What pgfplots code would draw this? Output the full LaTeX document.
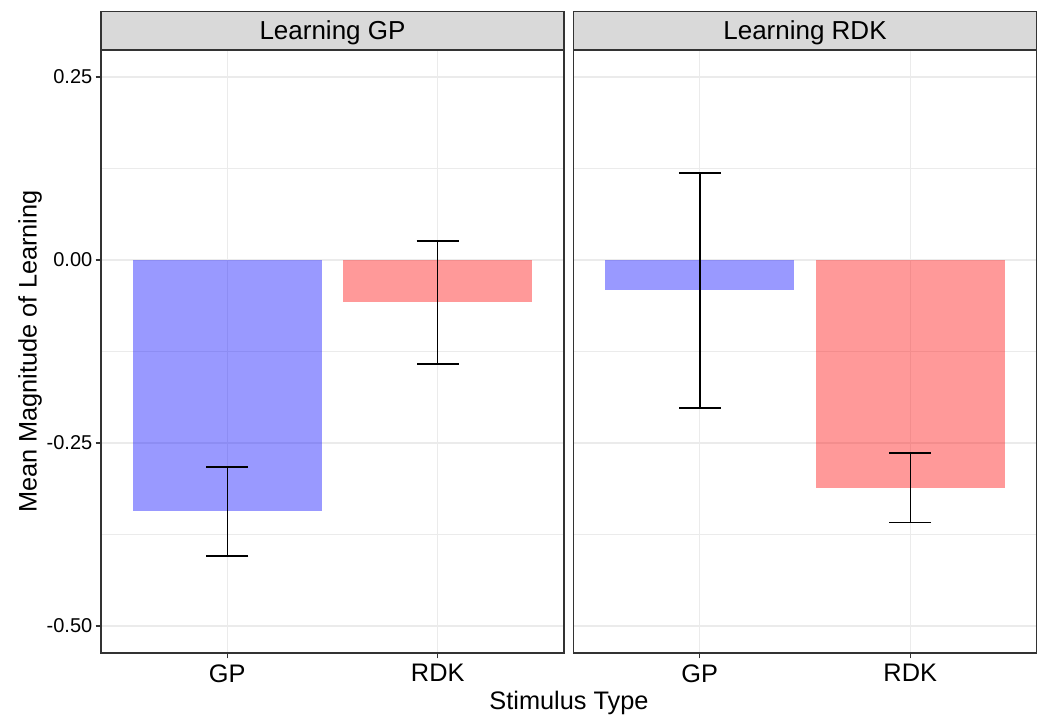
\documentclass[border=0pt]{standalone}
\usepackage{fontspec}
\setmainfont{Liberation Sans}
\usepackage{pgfplots}
\pgfplotsset{compat=1.18}
\usetikzlibrary{calc}
\definecolor{gridc}{HTML}{EBEBEB}
\definecolor{stripc}{HTML}{D9D9D9}
\definecolor{framec}{HTML}{333333}
\pgfplotsset{facet/.style={
 scale only axis, width=347.25pt, height=452.25pt,
 xmin=0.4, xmax=2.6, ymin=-0.5369, ymax=0.2869,
 xtick={1,2}, xticklabels={GP,RDK},
 ytick={-0.5,-0.25,0,0.25}, minor ytick={-0.375,-0.125,0.125},
 grid=both, major grid style={gridc, line width=0.8pt}, minor grid style={gridc, line width=0.5pt},
 axis line style={framec, line width=0.8pt},
 tick style={framec, line width=0.8pt}, tick align=outside, major tick length=4pt, minor tick length=0pt,
 tick pos=left,
 x tick label style={font=\fontsize{19}{19}\selectfont, yshift=-1pt},
 y tick label style={font=\fontsize{15}{15}\selectfont, xshift=1pt},
},
 bargp/.style={ybar, bar width=0.9, bar shift=0pt, fill=blue, fill opacity=0.4, draw=none},
 barrdk/.style={ybar, bar width=0.9, bar shift=0pt, fill=red, fill opacity=0.4, draw=none},
 eb/.style={draw=none, mark=none, error bars/.cd, y dir=both, y explicit, error mark=|,
   error bar style={draw=black, solid, line width=1.1pt},
   error mark options={draw=black, solid, line width=1.1pt, mark size=15.75pt}},
}
\begin{document}
\begin{tikzpicture}
\useasboundingbox (0,0) rectangle (782.25pt,536.25pt);
\begin{axis}[facet, name=p1, at={(75.75pt,46.5pt)}, anchor=south west,
  yticklabels={-0.50,-0.25,0.00,0.25}]
\addplot[bargp] coordinates {(1,-0.3432)};
\addplot[barrdk] coordinates {(2,-0.0577)};
\addplot[eb] coordinates {(1,-0.3436) +- (0,0.0608) (2,-0.0580) +- (0,0.0841)};
\end{axis}
\begin{axis}[facet, name=p2, at={(430.125pt,46.5pt)}, anchor=south west,
  yticklabels={}, y tick style={draw=none}]
\addplot[bargp] coordinates {(1,-0.0410)};
\addplot[barrdk] coordinates {(2,-0.3110)};
\addplot[eb] coordinates {(1,-0.0417) +- (0,0.1605) (2,-0.3110) +- (0,0.0473)};
\end{axis}
\foreach \p/\t in {p1/Learning GP, p2/Learning RDK}{
  \draw[framec, line width=0.8pt, fill=stripc] (\p.north west) rectangle ([yshift=28.875pt]\p.north east);
  \node[font=\fontsize{19.5}{19.5}\selectfont, anchor=center] at ([yshift=12.8pt]$(\p.north west)!0.5!(\p.north east)$) {\t};
}
\node[font=\fontsize{19}{19}\selectfont, rotate=90] at (22.5pt,272.6pt) {Mean Magnitude of Learning};
\node[font=\fontsize{19}{19}\selectfont] at (426.75pt,9pt) {Stimulus Type};
\end{tikzpicture}
\end{document}
